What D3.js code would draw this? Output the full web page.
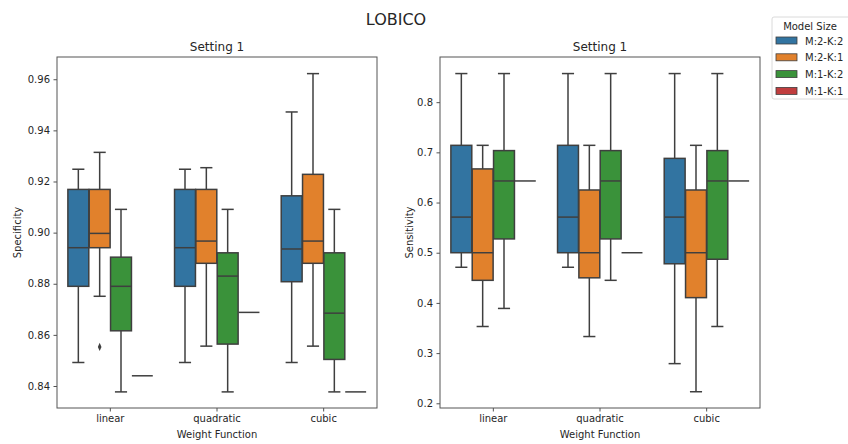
<!DOCTYPE html>
<html>
<head>
<meta charset="utf-8">
<script src="https://cdn.jsdelivr.net/npm/d3@7"></script>
<style>
  body { margin: 0; background: #fff; }
  svg text { font-family: "DejaVu Sans", sans-serif; fill: #262626; }
</style>
</head>
<body>
<div class="canvas"></div>
<script>
// categories and hue levels
const categories = ["linear", "quadratic", "cubic"];
const models = ["M:2-K:2", "M:2-K:1", "M:1-K:2", "M:1-K:1"];
const colors = ["#3274a1", "#e1812c", "#3a923a", "#c03d3e"];

// box stats per category: [low whisker, q1, median, q3, high whisker]
const specM2K2 = [[0.8492, 0.879, 0.8941, 0.9169, 0.9248], [0.8492, 0.879, 0.8941, 0.9169, 0.9248], [0.8492, 0.8808, 0.8936, 0.9144, 0.9472]];
const specM2K1 = [[0.8751, 0.8941, 0.8997, 0.9169, 0.9314], [0.8556, 0.888, 0.8967, 0.9169, 0.9254], [0.8556, 0.888, 0.8967, 0.9228, 0.9622]];
const specM1K2 = [[0.8377, 0.8616, 0.879, 0.8904, 0.9091], [0.8377, 0.8564, 0.883, 0.8921, 0.9091], [0.8377, 0.8504, 0.8685, 0.8921, 0.9091]];
const specM1K1 = [[0.844, 0.844, 0.844, 0.844, 0.844], [0.8688, 0.8688, 0.8688, 0.8688, 0.8688], [0.8377, 0.8377, 0.8377, 0.8377, 0.8377]];
const specOutliers = [{ cat: "linear", model: "M:2-K:1", value: 0.8553 }];

const sensM2K2 = [[0.471, 0.5, 0.571, 0.714, 0.857], [0.471, 0.5, 0.571, 0.714, 0.857], [0.279, 0.478, 0.571, 0.688, 0.857]];
const sensM2K1 = [[0.353, 0.445, 0.5, 0.667, 0.714], [0.333, 0.45, 0.5, 0.625, 0.714], [0.223, 0.4105, 0.5, 0.625, 0.714]];
const sensM1K2 = [[0.389, 0.5275, 0.643, 0.7035, 0.857], [0.445, 0.5275, 0.643, 0.7035, 0.857], [0.353, 0.487, 0.643, 0.7035, 0.857]];
const sensM1K1 = [[0.643, 0.643, 0.643, 0.643, 0.643], [0.5, 0.5, 0.5, 0.5, 0.5], [0.643, 0.643, 0.643, 0.643, 0.643]];
const sensOutliers = [];

const specTicks = [0.84, 0.86, 0.88, 0.90, 0.92, 0.94, 0.96];
const sensTicks = [0.2, 0.3, 0.4, 0.5, 0.6, 0.7, 0.8];

// dimensions
const w = 848;
const h = 444;
const lineColor = "#3f3f3f";

const svg = d3.select(".canvas").append("svg").attr("width", w).attr("height", h);

// suptitle
svg.append("text")
  .attr("x", 396).attr("y", 25)
  .attr("text-anchor", "middle")
  .style("font-size", "16px")
  .text("LOBICO");

const panels = [
  { left: 57, stats: [specM2K2, specM2K1, specM1K2, specM1K1], outliers: specOutliers,
    domain: [0.8314, 0.9687], ticks: specTicks, fmt: d3.format(".2f"), ylabel: "Specificity", ylabelX: 17 },
  { left: 440, stats: [sensM2K2, sensM2K1, sensM1K2, sensM1K1], outliers: sensOutliers,
    domain: [0.1906, 0.890], ticks: sensTicks, fmt: d3.format(".1f"), ylabel: "Sensitivity", ylabelX: 409 }
];

const panelTop = 57;
const pw = 320;
const ph = 351;

panels.forEach((p) => {
  const g = svg.append("g").attr("transform", `translate(${p.left}, ${panelTop})`);

  const x = d3.scaleBand().domain(categories).range([0, pw]).padding(0);
  const bw = x.bandwidth();
  const xSub = d3.scaleBand().domain(models).range([0.1 * bw, 0.9 * bw]).padding(0);
  const boxW = xSub.bandwidth() * 0.98;
  const y = d3.scaleLinear().domain(p.domain).range([ph, 0]);

  // boxes
  models.forEach((m, mi) => {
    categories.forEach((c, ci) => {
      const [lo, q1, med, q3, hi] = p.stats[mi][ci];
      const cx = x(c) + xSub(m) + xSub.bandwidth() / 2;
      const bg = g.append("g");
      // whiskers
      bg.append("line").attr("x1", cx).attr("x2", cx).attr("y1", y(q3)).attr("y2", y(hi))
        .attr("stroke", lineColor).attr("stroke-width", 1.5);
      bg.append("line").attr("x1", cx).attr("x2", cx).attr("y1", y(q1)).attr("y2", y(lo))
        .attr("stroke", lineColor).attr("stroke-width", 1.5);
      // caps
      if (hi > lo) {
        [lo, hi].forEach((v) => {
          bg.append("line").attr("x1", cx - boxW * 0.29).attr("x2", cx + boxW * 0.29)
            .attr("y1", y(v)).attr("y2", y(v))
            .attr("stroke", lineColor).attr("stroke-width", 1.5);
        });
      }
      // box
      bg.append("rect")
        .attr("x", cx - boxW / 2).attr("width", boxW)
        .attr("y", y(q3)).attr("height", Math.max(0, y(q1) - y(q3)))
        .attr("fill", colors[mi])
        .attr("stroke", lineColor).attr("stroke-width", 1.5);
      // median
      bg.append("line").attr("x1", cx - boxW / 2).attr("x2", cx + boxW / 2)
        .attr("y1", y(med)).attr("y2", y(med))
        .attr("stroke", lineColor).attr("stroke-width", 1.5);
    });
  });

  // outliers (diamonds)
  p.outliers.forEach((o) => {
    const cx = x(o.cat) + xSub(o.model) + xSub.bandwidth() / 2;
    g.append("path")
      .attr("d", d3.symbol(d3.symbolDiamond, 20)())
      .attr("transform", `translate(${cx}, ${y(o.value)}) scale(0.75, 1)`)
      .attr("fill", lineColor);
  });

  // axes
  const yAxis = d3.axisLeft(y).tickValues(p.ticks).tickFormat(p.fmt).tickSize(3.5).tickPadding(3.5);
  const xAxis = d3.axisBottom(x).tickSize(3.5).tickPadding(3.5);

  const ya = g.append("g").call(yAxis);
  const xa = g.append("g").attr("transform", `translate(0, ${ph})`).call(xAxis);
  [ya, xa].forEach((a) => {
    a.select(".domain").remove();
    a.selectAll("line").attr("stroke", "#262626").attr("stroke-width", 0.8);
    a.selectAll("text").style("font-size", "10px").style("font-family", "DejaVu Sans").attr("fill", "#262626");
  });

  // frame
  g.append("rect").attr("width", pw).attr("height", ph)
    .attr("fill", "none").attr("stroke", "#555").attr("stroke-width", 1);

  // titles and labels
  g.append("text").attr("x", pw / 2).attr("y", -6)
    .attr("text-anchor", "middle").style("font-size", "12px").text("Setting 1");
  g.append("text").attr("x", pw / 2).attr("y", ph + 30)
    .attr("text-anchor", "middle").style("font-size", "10px").text("Weight Function");
  svg.append("text")
    .attr("transform", `translate(${p.ylabelX}, ${panelTop + ph / 2}) rotate(-90)`)
    .attr("text-anchor", "middle").attr("dy", "0.35em")
    .style("font-size", "10px").text(p.ylabel);
});

// legend
const leg = svg.append("g").attr("transform", "translate(772, 17)");
leg.append("rect").attr("width", 80).attr("height", 82).attr("rx", 2)
  .attr("fill", "#fff").attr("stroke", "#d0d0d0").attr("stroke-width", 0.8);
leg.append("text").attr("x", 38).attr("y", 13).attr("text-anchor", "middle")
  .style("font-size", "10px").text("Model Size");
models.forEach((m, i) => {
  const ly = 20 + i * 16.8;
  leg.append("rect").attr("x", 4).attr("y", ly).attr("width", 21).attr("height", 7)
    .attr("fill", colors[i]).attr("stroke", lineColor).attr("stroke-width", 0.8);
  leg.append("text").attr("x", 33).attr("y", ly + 7.5).style("font-size", "10px").text(m);
});
</script>
</body>
</html>
